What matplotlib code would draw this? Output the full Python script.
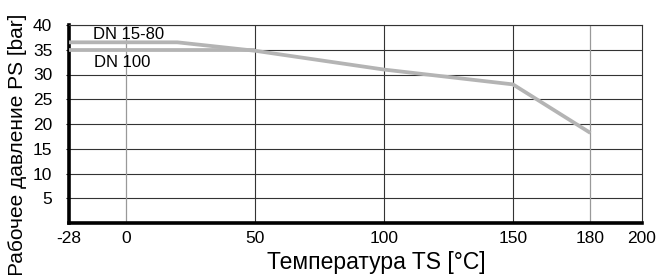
import numpy as np
import matplotlib
matplotlib.use("Agg")
import matplotlib.pyplot as plt

plt.rcParams['font.family'] = ['Liberation Sans', 'DejaVu Sans']

# --------------  Данные  -------------- #
t_small = [-28, 20, 50, 100, 150, 180]          # DN 15-80
p_small = [36.5, 36.5, 34.8, 31.0, 28.0, 18.2]
t_big = [-28, 50]                               # DN 100
p_big = [35.0, 35.0]

x_ticks = [-22, 0, 50, 100, 150, 180, 200]
x_labels = ['-28', '0', '50', '100', '150', '180', '200']
y_ticks = [5, 10, 15, 20, 25, 30, 35, 40]

fig = plt.figure(figsize=(6.58, 2.75), dpi=100)
ax = fig.add_axes([69 / 658, 1 - 223 / 275, (642 - 69) / 658, (223 - 25) / 275])
ax.set_xlim(-22, 200)
ax.set_ylim(0, 40)

# сетка
for yv in y_ticks:
    ax.axhline(yv, color='#333333', linewidth=0.8, zorder=1)
for xv in [50, 100, 150]:
    ax.axvline(xv, color='#333333', linewidth=0.8, zorder=1)
for xv in [0, 180]:
    ax.axvline(xv, color='#999999', linewidth=0.9, zorder=1)

ax.plot(t_small, p_small, color='#b4b4b4', linewidth=2.7, solid_capstyle='butt', zorder=3)
ax.plot(t_big, p_big, color='#b4b4b4', linewidth=2.7, solid_capstyle='butt', zorder=3)

ax.text(-12.8, 37.2, 'DN 15-80', fontsize=12, ha='left', va='baseline')
ax.text(-12.3, 31.6, 'DN 100', fontsize=12, ha='left', va='baseline')

ax.set_xticks(x_ticks)
ax.set_xticklabels(x_labels)
ax.set_yticks(y_ticks)
ax.tick_params(axis='both', labelsize=12.5, length=2, width=0.8, color='black')
ax.tick_params(axis='x', length=0, pad=6)
ax.tick_params(axis='y', pad=10)

for side in ['left', 'bottom']:
    ax.spines[side].set_linewidth(2.6)
for side in ['top', 'right']:
    ax.spines[side].set_linewidth(0.8)
    ax.spines[side].set_color('#333333')

fig.text(376 / 658, 1 - 269 / 275, 'Температура TS [°C]', fontsize=16.5, ha='center', va='baseline')
fig.text(18 / 658, 1 - 145 / 275, 'Рабочее давление PS [bar]', fontsize=15,
         rotation=90, ha='center', va='center')

plt.savefig('out.png', dpi=100)
